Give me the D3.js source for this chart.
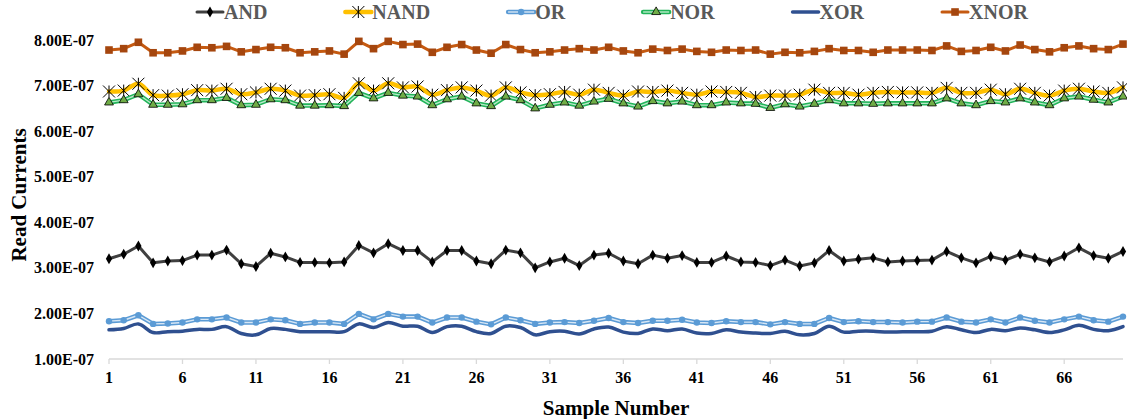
<!DOCTYPE html>
<html>
<head>
<meta charset="utf-8">
<script src="https://cdn.jsdelivr.net/npm/d3@7"></script>
<style>
  html, body { margin: 0; padding: 0; background: #fff; }
  svg { display: block; }
  text { font-family: "Liberation Serif", "Times New Roman", serif; font-weight: bold; }
</style>
</head>
<body>
<svg id="chart" width="1127" height="419"></svg>
<script>
// Sample numbers 1..70
const samples = d3.range(1, 71);

// Read currents, in units of 1E-07 A
const AND = [3.20,3.30,3.48,3.11,3.15,3.16,3.28,3.28,3.39,3.09,3.03,3.32,3.24,3.12,3.12,3.11,3.13,3.49,3.33,3.53,
             3.38,3.38,3.13,3.38,3.38,3.15,3.09,3.39,3.33,3.00,3.13,3.21,3.05,3.28,3.32,3.15,3.09,3.28,3.21,3.27,
             3.12,3.12,3.26,3.13,3.12,3.05,3.17,3.04,3.11,3.38,3.15,3.19,3.22,3.13,3.15,3.16,3.17,3.36,3.22,3.11,
             3.25,3.17,3.30,3.22,3.13,3.26,3.44,3.27,3.21,3.36];
const NAND = [6.87,6.89,7.04,6.79,6.78,6.81,6.90,6.89,6.93,6.81,6.85,6.93,6.89,6.78,6.79,6.81,6.73,7.05,6.89,7.05,
              6.96,6.98,6.80,6.90,6.96,6.89,6.78,6.96,6.85,6.79,6.81,6.86,6.80,6.91,6.84,6.78,6.87,6.86,6.89,6.84,
              6.80,6.87,6.86,6.84,6.75,6.78,6.78,6.80,6.91,6.84,6.84,6.80,6.84,6.86,6.85,6.85,6.84,6.95,6.84,6.84,
              6.91,6.81,6.93,6.84,6.78,6.89,6.93,6.87,6.84,6.96];
const OR = [1.83,1.85,1.96,1.77,1.78,1.80,1.87,1.87,1.91,1.80,1.80,1.87,1.85,1.77,1.80,1.80,1.77,1.99,1.87,1.99,
            1.93,1.93,1.80,1.91,1.91,1.82,1.76,1.91,1.85,1.77,1.80,1.81,1.79,1.84,1.90,1.81,1.79,1.84,1.84,1.86,
            1.80,1.79,1.83,1.81,1.81,1.76,1.81,1.77,1.77,1.90,1.81,1.83,1.81,1.81,1.80,1.82,1.82,1.91,1.82,1.80,
            1.87,1.80,1.91,1.84,1.80,1.87,1.93,1.85,1.82,1.93];
const NOR = [6.63,6.68,6.81,6.58,6.58,6.59,6.68,6.68,6.73,6.57,6.58,6.70,6.68,6.56,6.56,6.57,6.55,6.84,6.72,6.84,
             6.78,6.76,6.57,6.70,6.76,6.61,6.55,6.76,6.68,6.50,6.58,6.63,6.56,6.65,6.71,6.61,6.54,6.66,6.61,6.65,
             6.57,6.57,6.63,6.61,6.60,6.51,6.59,6.54,6.60,6.68,6.61,6.61,6.60,6.61,6.61,6.61,6.61,6.72,6.61,6.57,
             6.66,6.63,6.72,6.63,6.57,6.72,6.76,6.69,6.63,6.76];
const XOR = [1.64,1.67,1.77,1.58,1.60,1.61,1.65,1.65,1.71,1.56,1.53,1.67,1.65,1.60,1.60,1.60,1.60,1.77,1.69,1.80,
             1.72,1.72,1.58,1.71,1.72,1.60,1.56,1.72,1.69,1.53,1.60,1.61,1.55,1.66,1.70,1.59,1.56,1.66,1.62,1.66,
             1.57,1.56,1.64,1.59,1.57,1.56,1.61,1.53,1.56,1.72,1.59,1.61,1.61,1.59,1.60,1.60,1.61,1.71,1.64,1.58,
             1.65,1.62,1.68,1.64,1.58,1.64,1.74,1.65,1.62,1.71];
const XNOR = [7.78,7.81,7.95,7.72,7.72,7.76,7.84,7.83,7.86,7.74,7.79,7.84,7.83,7.72,7.74,7.76,7.69,7.97,7.81,7.97,
              7.90,7.91,7.73,7.84,7.90,7.78,7.71,7.90,7.79,7.72,7.74,7.78,7.81,7.78,7.84,7.76,7.72,7.80,7.77,7.80,
              7.75,7.73,7.78,7.77,7.78,7.69,7.73,7.72,7.75,7.81,7.77,7.77,7.73,7.78,7.78,7.78,7.77,7.87,7.75,7.77,
              7.84,7.76,7.89,7.79,7.74,7.83,7.87,7.81,7.79,7.91];

// Axis ticks
const xTicks = [1, 6, 11, 16, 21, 26, 31, 36, 41, 46, 51, 56, 61, 66];
const yTicks = [1, 2, 3, 4, 5, 6, 7, 8];
const yTickLabels = ["1.00E-07","2.00E-07","3.00E-07","4.00E-07","5.00E-07","6.00E-07","7.00E-07","8.00E-07"];

const svg = d3.select("#chart");
const margin = { left: 109, right: 1123, top: 40, bottom: 359 };

const x = d3.scaleLinear().domain([1, 70]).range([margin.left, margin.right]);
const y = d3.scaleLinear().domain([1, 8]).range([margin.bottom, margin.top]);

// Series drawing styles
const series = [
  { name: "AND",  values: AND,  color: "#404040", width: 3,   curve: d3.curveLinear, marker: "diamond" },
  { name: "NAND", values: NAND, color: "#FFC000", width: 4.5, curve: d3.curveCatmullRom.alpha(0.5), marker: "asterisk" },
  { name: "OR",   values: OR,   color: "#5B9BD5", width: 4.5, curve: d3.curveLinear, marker: "circle", double: true },
  { name: "NOR",  values: NOR,  color: "#22B45A", width: 4.5, curve: d3.curveLinear, marker: "triangle", double: true },
  { name: "XOR",  values: XOR,  color: "#2F5090", width: 3.5, curve: d3.curveCatmullRom.alpha(0.5), marker: null },
  { name: "XNOR", values: XNOR, color: "#C55A11", width: 3,   curve: d3.curveLinear, marker: "square" }
];

function drawMarker(g, type, cx, cy) {
  if (type === "diamond") {
    g.append("path").attr("d", d3.symbol(d3.symbolDiamond, 34)()).attr("transform", `translate(${cx},${cy})`)
      .attr("fill", "#000");
  } else if (type === "asterisk") {
    const r = 6;
    g.append("path")
      .attr("d", `M${cx - r},${cy - r}L${cx + r},${cy + r}M${cx - r},${cy + r}L${cx + r},${cy - r}M${cx},${cy - r}L${cx},${cy + r}`)
      .attr("stroke", "#000").attr("stroke-width", 1).attr("fill", "none");
  } else if (type === "circle") {
    g.append("circle").attr("cx", cx).attr("cy", cy).attr("r", 3.2).attr("fill", "#5B9BD5");
  } else if (type === "triangle") {
    g.append("path").attr("d", d3.symbol(d3.symbolTriangle, 34)()).attr("transform", `translate(${cx},${cy})`)
      .attr("fill", "#70AD47").attr("stroke", "#000").attr("stroke-width", 0.8);
  } else if (type === "square") {
    g.append("rect").attr("x", cx - 3.8).attr("y", cy - 3.8).attr("width", 7.6).attr("height", 7.6)
      .attr("fill", "#A5460E");
  }
}

function drawLine(g, s, pts) {
  const line = d3.line().x(d => d[0]).y(d => d[1]).curve(s.curve);
  g.append("path").attr("d", line(pts)).attr("fill", "none")
    .attr("stroke", s.color).attr("stroke-width", s.width)
    .attr("stroke-linejoin", "round").attr("stroke-linecap", "round");
  if (s.double) {
    g.append("path").attr("d", line(pts)).attr("fill", "none")
      .attr("stroke", s.name === "NOR" ? "#B9EBC9" : "#D6E6F5").attr("stroke-width", 1.4)
      .attr("stroke-linejoin", "round");
  }
}

// X axis line and ticks
const axisG = svg.append("g");
axisG.append("line").attr("x1", margin.left).attr("x2", margin.right)
  .attr("y1", margin.bottom).attr("y2", margin.bottom)
  .attr("stroke", "#D9D9D9").attr("stroke-width", 1.3);
axisG.selectAll(".xt").data(xTicks).enter().append("line")
  .attr("x1", d => x(d)).attr("x2", d => x(d))
  .attr("y1", margin.bottom).attr("y2", margin.bottom + 5)
  .attr("stroke", "#D9D9D9").attr("stroke-width", 1.3);
axisG.selectAll(".xl").data(xTicks).enter().append("text")
  .attr("x", d => x(d)).attr("y", 383)
  .attr("text-anchor", "middle").attr("font-size", 16).attr("fill", "#000")
  .text(d => d);

// Y tick labels
axisG.selectAll(".yl").data(yTicks).enter().append("text")
  .attr("x", 94).attr("y", d => y(d) + 5.5)
  .attr("text-anchor", "end").attr("font-size", 16).attr("fill", "#000")
  .text((d, i) => yTickLabels[i]);

// Axis titles
svg.append("text").attr("x", (margin.left + margin.right) / 2).attr("y", 415)
  .attr("text-anchor", "middle").attr("font-size", 21).attr("fill", "#000")
  .text("Sample Number");
svg.append("text").attr("transform", "translate(26,195) rotate(-90)")
  .attr("text-anchor", "middle").attr("font-size", 21).attr("fill", "#000")
  .text("Read Currents");

// Series lines and markers
const plotG = svg.append("g");
series.forEach(s => {
  const g = plotG.append("g");
  const pts = s.values.map((v, i) => [x(samples[i]), y(v)]);
  drawLine(g, s, pts);
  if (s.marker) pts.forEach(p => drawMarker(g, s.marker, p[0], p[1]));
});

// Legend
const legendG = svg.append("g");
let lx = 197;
const ly = 12;
series.forEach(s => {
  const g = legendG.append("g");
  const pts = [[lx, ly], [lx + 26, ly]];
  drawLine(g, Object.assign({}, s, { curve: d3.curveLinear }), pts);
  if (s.marker) drawMarker(g, s.marker, lx + 13, ly);
  const t = g.append("text").attr("x", lx + 27).attr("y", ly + 7)
    .attr("font-size", 20).attr("fill", "#595959").text(s.name);
  lx += 27 + t.node().getComputedTextLength() + 78;
});
</script>
</body>
</html>
